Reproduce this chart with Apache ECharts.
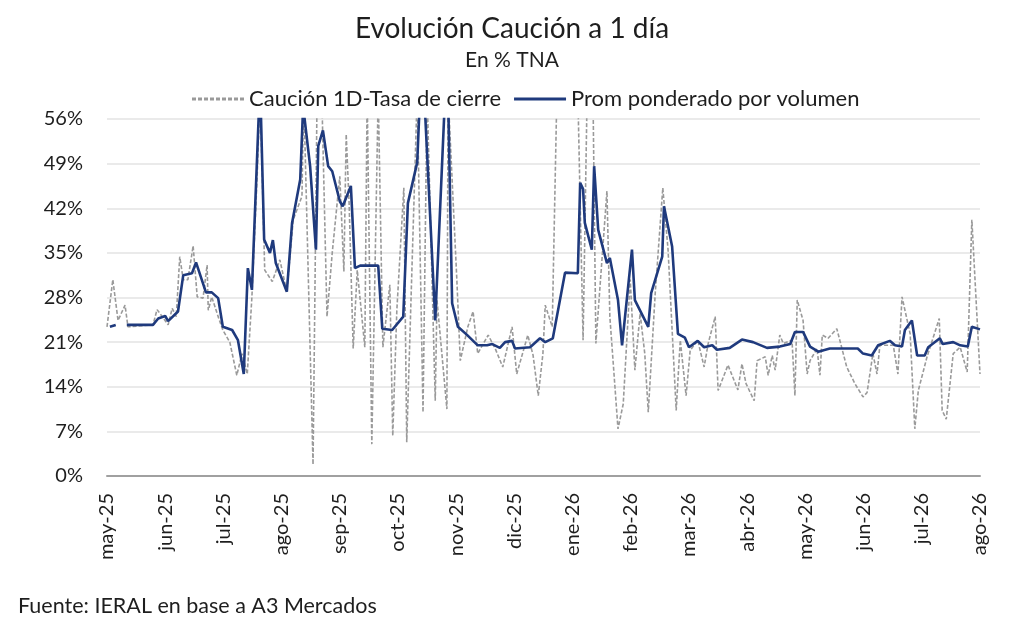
<!DOCTYPE html>
<html>
<head>
<meta charset="utf-8">
<script src="https://cdn.jsdelivr.net/npm/echarts@6/dist/echarts.min.js"></script>
<style>
html,body{margin:0;padding:0;background:#fff;}
#c{width:1024px;height:624px;}
</style>
</head>
<body>
<div id="c"></div>
<script>
// x positions are in months since 1-May-2025 (0 = may-25, 15 = ago-26)
const monthLabels = ['may-25','jun-25','jul-25','ago-25','sep-25','oct-25','nov-25','dic-25','ene-26','feb-26','mar-26','abr-26','may-26','jun-26','jul-26','ago-26'];
const yTicks = [0,7,14,21,28,35,42,49,56];

const closeX = [0.00,0.10,0.19,0.31,0.36,0.79,0.86,0.95,1.05,1.12,1.19,1.25,1.31,1.39,1.48,1.55,1.65,1.72,1.74,1.80,1.91,1.99,2.11,2.23,2.32,2.41,2.49,2.58,2.63,2.71,2.84,2.97,3.09,3.20,3.35,3.38,3.54,3.61,3.69,3.78,3.87,4.00,4.07,4.11,4.16,4.23,4.30,4.43,4.47,4.55,4.66,4.74,4.86,4.91,4.98,5.10,5.15,5.33,5.43,5.50,5.64,5.67,5.84,5.86,6.01,6.07,6.20,6.29,6.37,6.55,6.67,6.80,6.96,7.04,7.23,7.32,7.41,7.49,7.53,7.65,7.73,8.09,8.18,8.25,8.35,8.40,8.59,8.64,8.78,8.87,8.99,9.07,9.16,9.24,9.30,9.42,9.55,9.64,9.78,9.85,9.95,10.02,10.15,10.26,10.33,10.45,10.50,10.67,10.84,10.91,10.98,11.12,11.17,11.31,11.36,11.43,11.48,11.56,11.62,11.77,11.82,11.86,11.96,12.03,12.08,12.20,12.25,12.29,12.39,12.54,12.71,12.85,12.99,13.06,13.16,13.23,13.28,13.51,13.59,13.66,13.80,13.88,13.94,14.09,14.30,14.35,14.42,14.54,14.66,14.78,14.86,15.00];
const closeY = [23.4,30.8,24.4,26.8,23.4,23.7,26.1,25.0,23.7,26.3,25.0,34.4,30.8,30.8,36.1,28.1,27.9,33.1,26.0,28.1,25.0,22.9,21.0,15.8,19.2,16.0,28.1,47.0,60,32.3,30.5,33.9,28.9,40.2,43.9,60,1.8,60,60,25.0,35.0,47.0,32.1,53.6,42.8,20.0,32.3,20.2,60,5.0,60,20.2,30.0,6.3,26.0,45.2,5.3,60,10.0,60,11.8,27.6,10.5,60,31.0,18.1,23.4,25.8,19.2,22.1,20.0,17.1,23.4,16.0,22.1,19.0,12.6,19.2,26.8,23.4,60,60,21.3,60,60,20.8,44.7,25.0,7.4,11.3,30.8,16.6,25.5,19.2,10.0,28.7,45.2,35.5,10.3,21.3,12.6,19.7,21.3,17.1,20.8,25.0,13.4,17.4,13.5,17.6,14.5,11.8,18.1,18.7,15.8,18.9,16.6,22.1,20.8,21.3,12.6,27.6,24.4,16.0,18.1,20.0,15.8,22.1,21.6,23.1,17.1,14.5,12.4,13.1,19.2,16.0,20.5,20.5,16.0,28.1,22.3,7.4,13.4,18.7,24.7,10.3,8.9,19.2,20.2,16.3,40.2,16.0];

const avgX = [0.05,0.15,0.25,0.34,0.79,0.88,1.00,1.05,1.22,1.31,1.46,1.53,1.70,1.80,1.91,1.99,2.15,2.25,2.35,2.42,2.49,2.63,2.70,2.80,2.85,2.90,3.09,3.18,3.32,3.37,3.49,3.59,3.63,3.71,3.80,3.87,4.00,4.05,4.19,4.26,4.35,4.66,4.73,4.90,5.09,5.17,5.33,5.38,5.46,5.64,5.81,5.86,5.93,6.03,6.19,6.37,6.53,6.62,6.75,6.84,6.96,7.01,7.27,7.44,7.53,7.66,7.87,8.09,8.13,8.18,8.21,8.33,8.37,8.44,8.59,8.64,8.78,8.85,9.02,9.07,9.30,9.35,9.54,9.57,9.71,9.81,9.93,10.00,10.15,10.26,10.40,10.48,10.70,10.91,11.10,11.34,11.56,11.74,11.82,11.96,12.08,12.22,12.42,12.90,12.99,13.14,13.25,13.45,13.54,13.66,13.71,13.83,13.92,14.05,14.11,14.31,14.36,14.54,14.66,14.79,14.86,15.00];
const avgY = [23.4,23.7,null,23.7,23.7,24.7,25.1,24.3,25.8,31.5,31.8,33.5,28.8,28.8,27.9,23.4,22.9,21.3,16.0,32.6,29.2,62,37.1,35.0,37.0,33.4,28.9,39.7,46.5,58,48.6,35.5,51.8,54.2,48.6,47.8,43.1,42.3,45.5,32.6,33.0,33.0,23.1,22.9,25.0,42.8,49.2,60,58,24.4,60,60,27.1,23.4,22.1,20.5,20.5,20.7,20.1,21.0,21.2,20.0,20.2,21.6,21.0,21.6,31.9,31.8,46.0,45.0,39.7,35.5,48.6,38.6,33.4,34.2,27.6,20.5,35.5,27.6,23.4,28.7,34.4,42.3,36.0,22.3,21.7,20.2,21.2,20.2,20.5,19.8,20.1,21.4,21.0,20.1,20.3,20.7,22.6,22.6,20.3,19.5,20.0,20.0,19.2,18.9,20.5,21.2,20.5,20.3,22.9,24.4,18.9,18.9,20.2,21.6,20.7,21.0,20.5,20.3,23.4,23.0];

const closeData = closeX.map((x,i)=>[x, closeY[i]]);
const avgData = avgX.map((x,i)=>[x, avgY[i] === null ? '-' : avgY[i]]);

const FONT = 'Lato';
const TXT = '#1e1e1e';
const GRAY = '#9a9a9a';
const NAVY = '#1f3a7d';

// legend sample icons (dashed and solid strokes drawn as filled paths)
let dashPath = 'path://';
for (let i = 0; i < 9; i++) { const x0 = i * 6; dashPath += 'M' + x0 + ',0h4v1h-4z'; }
const solidPath = 'path://M0,0h52v1h-52z';

const chart = echarts.init(document.getElementById('c'));
chart.setOption({
  backgroundColor: '#ffffff',
  animation: false,
  textStyle: { fontFamily: FONT },
  title: [
    { text: 'Evolución Caución a 1 día', left: 'center', top: 10,
      textStyle: { fontFamily: FONT, fontSize: 28, fontWeight: 'normal', color: TXT } },
    { text: 'En % TNA', left: 'center', top: 45,
      textStyle: { fontFamily: FONT, fontSize: 21, fontWeight: 'normal', color: TXT } },
    { text: 'Fuente: IERAL en base a A3 Mercados', left: 13, top: 590,
      textStyle: { fontFamily: FONT, fontSize: 21.5, fontWeight: 'normal', color: TXT } }
  ],
  legend: {
    top: 83, left: 187,
    itemWidth: 52, itemHeight: 3, itemGap: 13,
    symbolKeepAspect: false,
    textStyle: { fontFamily: FONT, fontSize: 22, color: TXT },
    data: [
      { name: 'Caución 1D-Tasa de cierre', icon: dashPath, itemStyle: { color: GRAY } },
      { name: 'Prom ponderado por volumen', icon: solidPath, itemStyle: { color: NAVY } }
    ]
  },
  grid: { left: 107, right: 44, top: 119, bottom: 148, containLabel: false },
  xAxis: {
    type: 'value', min: 0, max: 15, interval: 1,
    axisLine: { show: true, lineStyle: { color: '#a0a0a0', width: 2 } },
    axisTick: { show: false },
    splitLine: { show: false },
    axisLabel: {
      rotate: 90, margin: 17,
      fontFamily: FONT, fontSize: 20, color: TXT,
      formatter: v => monthLabels[Math.round(v)]
    }
  },
  yAxis: {
    type: 'value', min: yTicks[0], max: yTicks[yTicks.length-1], interval: 7,
    axisLine: { show: false },
    axisTick: { show: false },
    splitLine: { show: true, lineStyle: { color: '#e3e3e3', width: 1.5 } },
    axisLabel: { fontFamily: FONT, fontSize: 20, color: TXT, margin: 24, formatter: '{value}%' }
  },
  series: [
    { name: 'Caución 1D-Tasa de cierre', type: 'line', data: closeData,
      symbol: 'none', clip: true,
      lineStyle: { color: GRAY, width: 1.6, type: [4, 2] },
      itemStyle: { color: GRAY } },
    { name: 'Prom ponderado por volumen', type: 'line', data: avgData,
      symbol: 'none', clip: true, connectNulls: false,
      lineStyle: { color: NAVY, width: 2.6 },
      itemStyle: { color: NAVY } }
  ]
});
</script>
</body>
</html>
